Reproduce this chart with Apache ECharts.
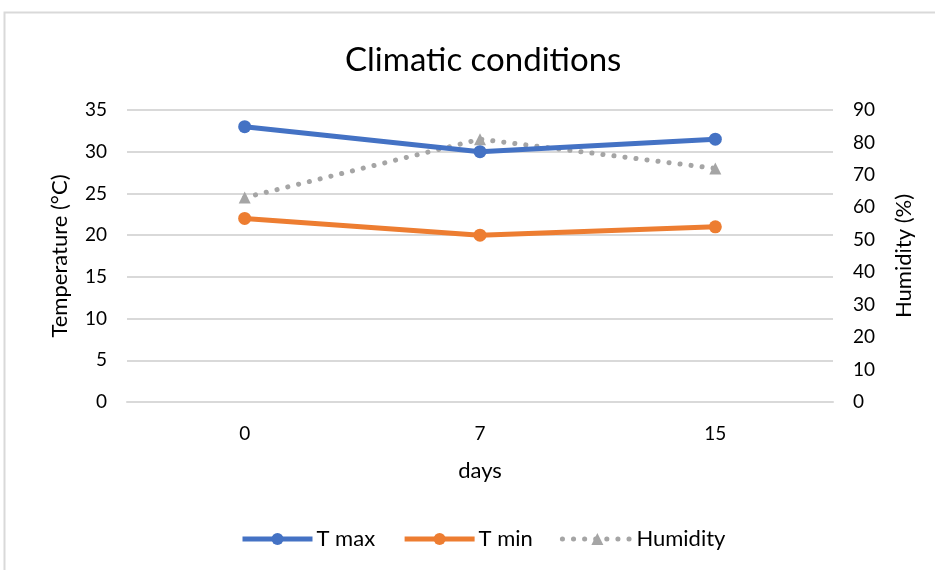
<!DOCTYPE html>
<html>
<head>
<meta charset="utf-8">
<script src="https://cdn.jsdelivr.net/npm/echarts@6/dist/echarts.min.js"></script>
<style>
  html, body { margin: 0; padding: 0; background: #fff; }
  #chart { width: 935px; height: 570px; }
</style>
</head>
<body>
<div id="chart"></div>
<script>
// Sampling days
const days = ['0', '7', '15'];
// Daily temperatures (°C)
const tMax = [33, 30, 31.5];
const tMin = [22, 20, 21];
// Relative humidity (%)
const humidity = [63, 81, 72];

const FONT = 'Lato';
const chart = echarts.init(document.getElementById('chart'));

chart.setOption({
  backgroundColor: '#ffffff',
  textStyle: { fontFamily: FONT },
  graphic: [{
    type: 'rect',
    shape: { x: 4.5, y: 12.5, width: 960, height: 600 },
    style: { fill: 'none', stroke: '#d9d9d9', lineWidth: 2 },
    silent: true,
    z: -1
  }],
  title: {
    text: 'Climatic conditions',
    left: 340,
    top: 39,
    textStyle: { fontFamily: FONT, fontSize: 33, fontWeight: 'normal', color: '#000' }
  },
  legend: {
    bottom: 15,
    left: 235,
    itemWidth: 70,
    itemHeight: 15,
    itemGap: 27,
    lineStyle: { width: 5 },
    textStyle: { fontFamily: FONT, fontSize: 22, color: '#000', padding: [0, 0, 0, -1] },
    data: ['T max', 'T min', 'Humidity']
  },
  grid: { left: 127, right: 102, top: 110, bottom: 168 },
  xAxis: {
    type: 'category',
    data: days,
    boundaryGap: true,
    name: 'days',
    nameLocation: 'middle',
    nameGap: 58,
    nameTextStyle: { fontFamily: FONT, fontSize: 22, color: '#000' },
    axisLine: { show: true, lineStyle: { color: '#d9d9d9', width: 2 } },
    axisTick: { show: false },
    axisLabel: { margin: 22, fontFamily: FONT, fontSize: 19, color: '#000' }
  },
  yAxis: [{
    type: 'value',
    min: 0, max: 35, interval: 5,
    name: 'Temperature (°C)',
    nameLocation: 'middle',
    nameGap: 56,
    nameRotate: 90,
    nameTextStyle: { fontFamily: FONT, fontSize: 22, color: '#000' },
    axisLine: { show: false },
    axisTick: { show: false },
    axisLabel: { margin: 20, fontFamily: FONT, fontSize: 19, color: '#000' },
    splitLine: { lineStyle: { color: '#d9d9d9', width: 2 } }
  }, {
    type: 'value',
    min: 0, max: 90, interval: 10,
    name: 'Humidity (%)',
    nameLocation: 'middle',
    nameGap: 60,
    nameRotate: 90,
    nameTextStyle: { fontFamily: FONT, fontSize: 22, color: '#000' },
    axisLine: { show: false },
    axisTick: { show: false },
    axisLabel: { margin: 20, fontFamily: FONT, fontSize: 19, color: '#000' },
    splitLine: { show: false }
  }],
  series: [{
    name: 'T max',
    type: 'line',
    data: tMax,
    yAxisIndex: 0,
    symbol: 'circle',
    symbolSize: 13,
    color: '#4472C4',
    lineStyle: { width: 5, color: '#4472C4' },
    itemStyle: { color: '#4472C4' },
    z: 3
  }, {
    name: 'T min',
    type: 'line',
    data: tMin,
    yAxisIndex: 0,
    symbol: 'circle',
    symbolSize: 13,
    color: '#ED7D31',
    lineStyle: { width: 5, color: '#ED7D31' },
    itemStyle: { color: '#ED7D31' },
    z: 3
  }, {
    name: 'Humidity',
    type: 'line',
    data: humidity,
    yAxisIndex: 1,
    symbol: 'triangle',
    symbolSize: 12,
    color: '#A5A5A5',
    lineStyle: { width: 5, color: '#A5A5A5', type: [0.1, 11], cap: 'round' },
    itemStyle: { color: '#A5A5A5' },
    z: 2
  }]
});
</script>
</body>
</html>
